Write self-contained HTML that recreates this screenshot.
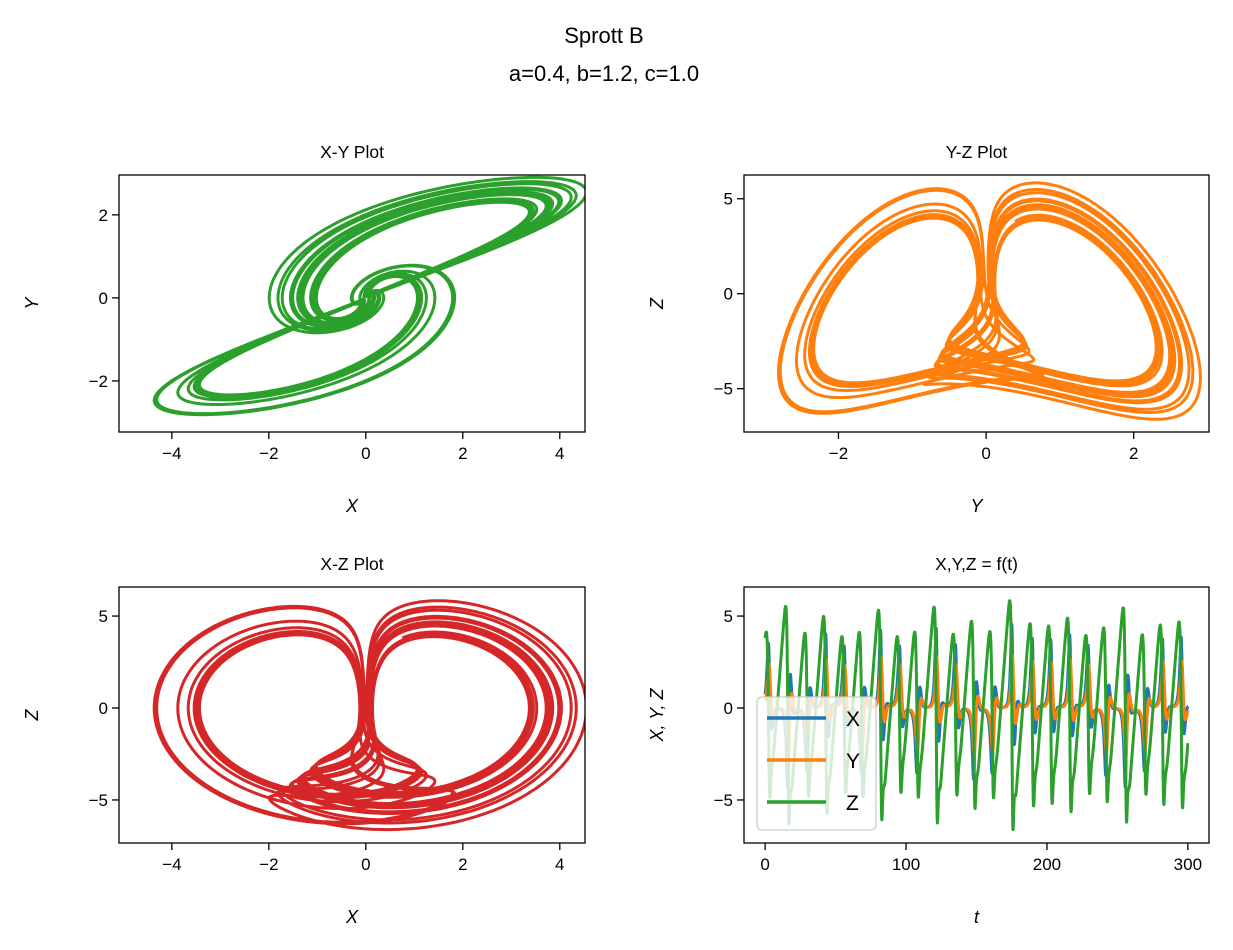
<!DOCTYPE html>
<html><head><meta charset="utf-8">
<style>
body{margin:0;background:#fff}
svg{display:block;font-family:"Liberation Sans","DejaVu Sans",sans-serif}
</style></head>
<body>
<svg id="chart" width="1233" height="950" viewBox="0 0 1233 950" xmlns="http://www.w3.org/2000/svg">
<rect width="1233" height="950" fill="#fff"/>
<text x="604" y="43" font-size="22" text-anchor="middle">Sprott B</text>
<text x="604" y="81" font-size="22" text-anchor="middle">a=0.4, b=1.2, c=1.0</text>
<g id="root"></g>
</svg>
<script>
// System parameters (data)
const params = [0.4, 1.2, 1.0];
const initialState = [0.1, 0.1, 0.1];
const warmup = [120];
const tSpan = [0, 300];
const stepSize = [0.01];
const xyTicksX = [-4, -2, 0, 2, 4];
const xyTicksY = [-2, 0, 2];
const yzTicksX = [-2, 0, 2];
const zTicks = [-5, 0, 5];
const tTicks = [0, 100, 200, 300];
const legendLabels = ['X', 'Y', 'Z'];

const [A, B, C] = params;
function f(s){return [A*s[1]*s[2], s[0]-B*s[1], C-s[0]*s[1]];}
function rk(s,h){
  const k1=f(s);
  const k2=f(s.map((v,j)=>v+h/2*k1[j]));
  const k3=f(s.map((v,j)=>v+h/2*k2[j]));
  const k4=f(s.map((v,j)=>v+h*k3[j]));
  return s.map((v,j)=>v+h/6*(k1[j]+2*k2[j]+2*k3[j]+k4[j]));
}
const T = [], X = [], Y = [], Z = [];
let s = initialState.slice(), h = stepSize[0];
for (let i=0;i<Math.round(warmup[0]/h);i++) s=rk(s,h);
let t = tSpan[0];
let n = Math.round((tSpan[1]-tSpan[0])/h);
for (let i=0;i<=n;i++){
  if (i%3===0){T.push(t);X.push(s[0]);Y.push(s[1]);Z.push(s[2]);}
  s=rk(s,h);
  t+=h;
}

const NS='http://www.w3.org/2000/svg';
const root=document.getElementById('root');
function el(tag,attrs,parent){const e=document.createElementNS(NS,tag);for(const k in attrs)e.setAttribute(k,attrs[k]);(parent||root).appendChild(e);return e;}
const fmt=v=>v<0?'\u2212'+(-v):String(v);

function axes(cfg){
  const {name,x0,x1,y0,y1,xd,yd,xt,yt,title,xl,yl}=cfg;
  const sx=v=>x0+(v-xd[0])/(xd[1]-xd[0])*(x1-x0);
  const sy=v=>y1-(v-yd[0])/(yd[1]-yd[0])*(y1-y0);
  const g=el('g',{});
  
  
  const cp=el('clipPath',{id:'clip-'+name},g);
  el('rect',{x:x0,y:y0,width:x1-x0,height:y1-y0},cp);
  const plot=el('g',{'clip-path':'url(#clip-'+name+')'},g);
  
  
  const fr=el('rect',{x:x0,y:y0,width:x1-x0,height:y1-y0,fill:'none',stroke:'#000','stroke-width':1.3},g);
  
  
  xt.forEach(v=>{
    const x=sx(v);
    const tk=el('line',{x1:x,x2:x,y1:y1,y2:y1+7,stroke:'#000','stroke-width':1.3},g);
    
    
    const tl=el('text',{x:x,y:y1+27,'font-size':17,'text-anchor':'middle'},g);
    
    
    tl.textContent=fmt(v);
  });
  yt.forEach(v=>{
    const y=sy(v);
    const tk=el('line',{x1:x0-7,x2:x0,y1:y,y2:y,stroke:'#000','stroke-width':1.3},g);
    
    
    const tl=el('text',{x:x0-11,y:y+6,'font-size':17,'text-anchor':'end'},g);
    
    
    tl.textContent=fmt(v);
  });
  const ti=el('text',{x:(x0+x1)/2,y:y0-17,'font-size':17.5,'text-anchor':'middle'},g);
  
  
  ti.textContent=title;
  const xlab=el('text',{x:(x0+x1)/2,y:y1+80,'font-size':18,'font-style':'italic','text-anchor':'middle'},g);
  
  
  xlab.textContent=xl;
  const cy=(y0+y1)/2, cx=x0-81;
  const ylab=el('text',{x:cx,y:cy,'font-size':18,'font-style':'italic','text-anchor':'middle',transform:`rotate(-90 ${cx} ${cy})`},g);
  
  
  ylab.textContent=yl;
  return {plot,sx,sy,g};
}
function path(ax,xs,ys,color,name,w){
  let d='';
  for(let i=0;i<xs.length;i++)d+=(i?'L':'M')+ax.sx(xs[i]).toFixed(1)+' '+ax.sy(ys[i]).toFixed(1);
  const p=el('path',{d:d,fill:'none',stroke:color,'stroke-width':w||3,'stroke-linejoin':'round'},ax.plot);
  
  
}
const blue='#1f77b4',orange='#ff7f0e',green='#2ca02c',red='#d62728';
const a1=axes({name:'xy-plot',x0:119,x1:585,y0:175,y1:432,xd:[-5.09,4.52],yd:[-3.23,2.96],xt:xyTicksX,yt:xyTicksY,title:'X-Y Plot',xl:'X',yl:'Y'});
path(a1,X,Y,green,'xy-trajectory');
const a2=axes({name:'yz-plot',x0:744,x1:1209,y0:175,y1:432,xd:[-3.28,3.02],yd:[-7.28,6.25],xt:yzTicksX,yt:zTicks,title:'Y-Z Plot',xl:'Y',yl:'Z'});
path(a2,Y,Z,orange,'yz-trajectory');
const a3=axes({name:'xz-plot',x0:119,x1:585,y0:587,y1:843,xd:[-5.09,4.52],yd:[-7.34,6.58],xt:xyTicksX,yt:zTicks,title:'X-Z Plot',xl:'X',yl:'Z'});
path(a3,X,Z,red,'xz-trajectory');
const a4=axes({name:'time-series-plot',x0:744,x1:1209,y0:587,y1:843,xd:[-15,315],yd:[-7.34,6.58],xt:tTicks,yt:zTicks,title:'X,Y,Z = f(t)',xl:'t',yl:'X, Y, Z'});
path(a4,T,X,blue,'x-series');
path(a4,T,Y,orange,'y-series');
path(a4,T,Z,green,'z-series');
const lg=el('g',{},a4.g);


el('rect',{x:757,y:697,width:119,height:133,rx:5,fill:'#fff','fill-opacity':0.8,stroke:'#ccc','stroke-width':1.3},lg);
[blue,orange,green].forEach((c,i)=>{
  const y=718+i*42;
  const e=el('g',{},lg);
  
  
  el('line',{x1:767,x2:826,y1:y,y2:y,stroke:c,'stroke-width':3.5},e);
  const tx=el('text',{x:846,y:y+8,'font-size':21},e);
  tx.textContent=legendLabels[i];
});
</script>
</body></html>
